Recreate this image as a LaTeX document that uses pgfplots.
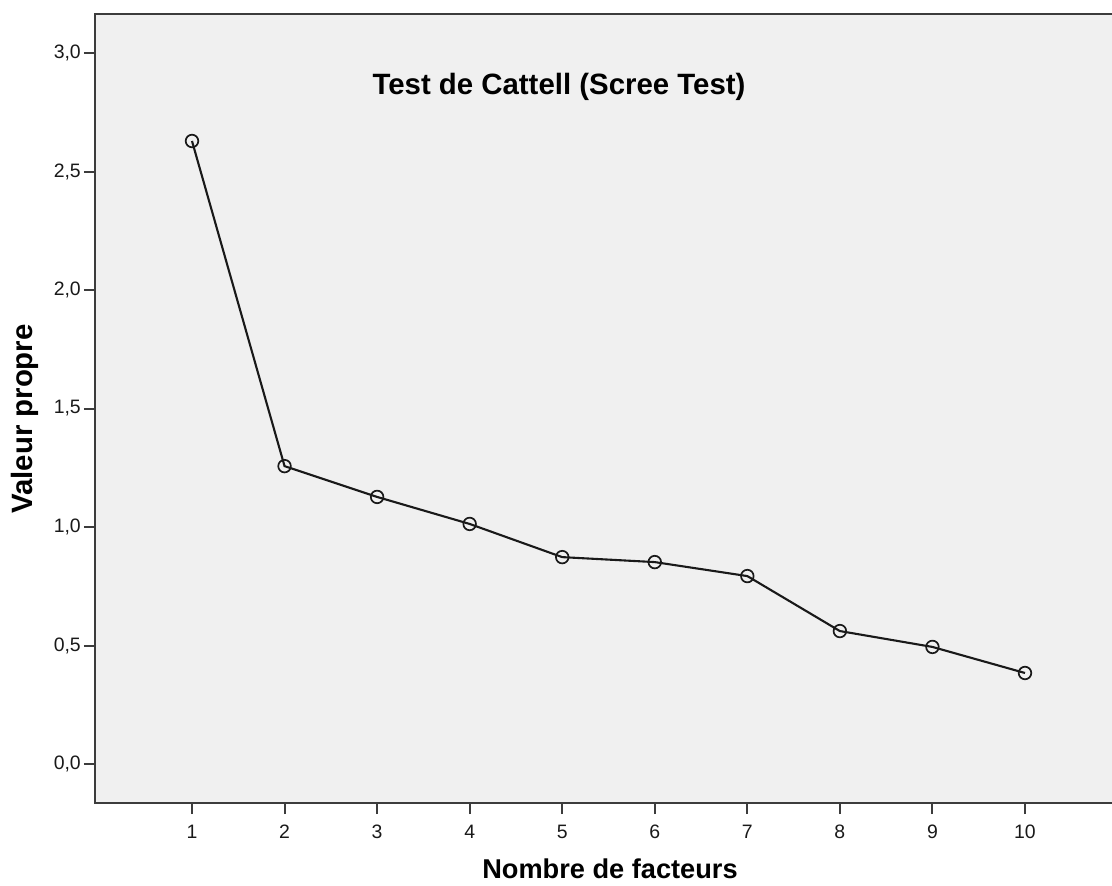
\documentclass[border=0pt]{standalone}
\usepackage{pgfplots}
\pgfplotsset{compat=1.18}
\usepackage{fontspec}
\setmainfont{Liberation Sans}
\definecolor{bggray}{RGB}{240,240,240}
\definecolor{framegray}{RGB}{60,60,60}
\begin{document}
\begin{tikzpicture}
\useasboundingbox (-95bp,-83bp) rectangle (1017bp,803bp);
\begin{axis}[
  scale only axis, width=1017bp, height=789bp,
  xmin=-0.048, xmax=10.94, ymin=-0.1646, ymax=3.165,
  axis background/.style={fill=bggray},
  axis line style={draw=none},
  xtick={1,2,3,4,5,6,7,8,9,10}, ytick={0,0.5,1,1.5,2,2.5,3},
  xtick pos=lower, ytick pos=left,
  tick align=outside, major tick length=11bp,
  tick style={line width=2bp, color=framegray},
  /pgf/number format/assume math mode=true,
  ticklabel style={font=\fontsize{19.5}{22}\selectfont, color=black!90, inner sep=0pt},
  yticklabel style={/pgf/number format/fixed, /pgf/number format/fixed zerofill, /pgf/number format/precision=1, /pgf/number format/use comma, xshift=-3bp},
  xticklabel style={yshift=-11bp},
  clip=false,
]
\addplot[line width=2.1bp, color=black!90, mark=o, mark size=6.3bp, mark options={line width=1.7bp, fill=none, solid}]
coordinates {(1,2.629) (2,1.257) (3,1.127) (4,1.013) (5,0.873) (6,0.852) (7,0.793) (8,0.561) (9,0.494) (10,0.384)};
\draw[line width=2.8bp, framegray] (rel axis cs:1.05,1) -- (rel axis cs:0,1) -- (rel axis cs:0,0) -- (rel axis cs:1.05,0);
\end{axis}
\node[font=\bfseries\fontsize{29.5}{33}\selectfont, anchor=base] at (464bp,708bp) {Test de Cattell (Scree Test)};
\node[font=\bfseries\fontsize{27.3}{32}\selectfont, anchor=base] at (515bp,-75bp) {Nombre de facteurs};
\node[font=\bfseries\fontsize{29.5}{33}\selectfont, anchor=base, rotate=90] at (-62bp,324bp) {\phantom{x}};
\node[font=\bfseries\fontsize{29.5}{33}\selectfont, anchor=base, rotate=90] at (-62bp,384bp) {Valeur propre};
\end{tikzpicture}
\end{document}
